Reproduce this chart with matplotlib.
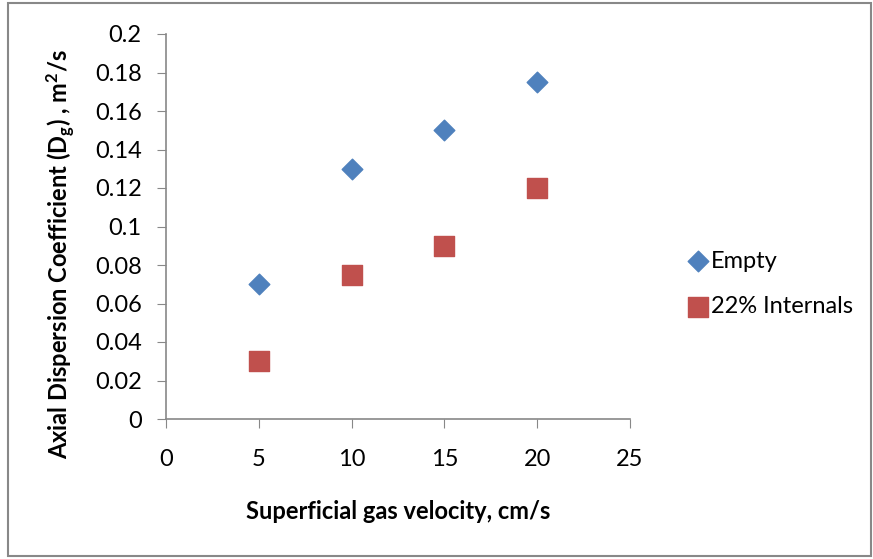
import matplotlib.pyplot as plt
from matplotlib.patches import Rectangle

# data
velocity = [5, 10, 15, 20]
empty = [0.07, 0.13, 0.15, 0.175]
internals = [0.03, 0.075, 0.09, 0.12]
x_ticks = [0, 5, 10, 15, 20, 25]
y_ticks = [0, 0.02, 0.04, 0.06, 0.08, 0.1, 0.12, 0.14, 0.16, 0.18, 0.2]
y_tick_labels = ["0", "0.02", "0.04", "0.06", "0.08", "0.1", "0.12", "0.14", "0.16", "0.18", "0.2"]

plt.rcParams["font.family"] = ["Lato", "DejaVu Sans"]
plt.rcParams["mathtext.default"] = "regular"

FS = 17
W, H = 873, 559
fig = plt.figure(figsize=(W / 100, H / 100), dpi=100)
ax = fig.add_axes([166 / W, 1 - 419 / H, (630 - 166) / W, (419 - 34) / H])

ax.scatter(velocity, empty, marker="D", s=110, color="#4F81BD", label="Empty", zorder=3)
ax.scatter(velocity, internals, marker="s", s=190, color="#C0504D", label="22% Internals", zorder=3)

ax.set_xlim(0, 25)
ax.set_ylim(0, 0.2)
ax.set_xticks(x_ticks)
ax.set_yticks(y_ticks)
ax.set_yticklabels(y_tick_labels)
ax.tick_params(axis="both", direction="out", length=6.5, color="#888888", labelsize=FS)
ax.tick_params(axis="y", pad=11)
ax.tick_params(axis="x", pad=15)
for side in ("top", "right"):
    ax.spines[side].set_visible(False)
for side in ("left", "bottom"):
    ax.spines[side].set_color("#888888")
    ax.spines[side].set_linewidth(1.2)

fig.text(398 / W, 1 - 519 / H, "Superficial gas velocity, cm/s", ha="center", va="baseline",
         fontsize=FS, fontweight="bold")
fig.text(61 / W, 1 - 254 / H, r"Axial Dispersion Coefficient (D$_{g}$) , m$^{2}$/s",
         ha="center", va="center", rotation=90, fontsize=FS, fontweight="bold")

ax.legend(loc="center left", bbox_to_anchor=(677 / W, 1 - 284 / H), bbox_transform=fig.transFigure,
          frameon=False, fontsize=FS, handletextpad=0.05, labelspacing=1.05, borderaxespad=0,
          handlelength=1.0, scatterpoints=1)

fig.patches.append(Rectangle((8 / W, 3 / H), (W - 10) / W, (H - 6) / H, transform=fig.transFigure,
                             fill=False, edgecolor="#888888", linewidth=1.5))

fig.savefig("out.png", dpi=100)
